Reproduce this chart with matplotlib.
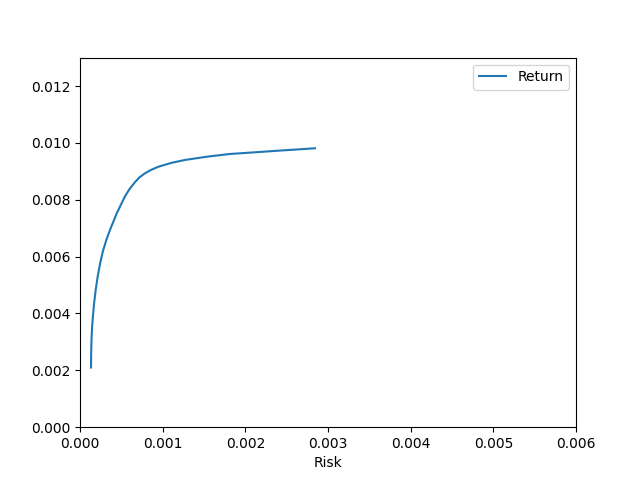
import matplotlib
matplotlib.use("Agg")
import matplotlib.pyplot as plt

risk = [0.000133, 0.000135, 0.000139, 0.000146, 0.000156, 0.000171, 0.000190,
        0.000214, 0.000243, 0.000278, 0.000320, 0.000363, 0.000444, 0.000544,
        0.000600, 0.000665, 0.000720, 0.000786, 0.000860, 0.000947,
        0.001109, 0.001270, 0.001550, 0.001815, 0.002120, 0.002419, 0.002843]
ret = [0.00210, 0.00260, 0.00307, 0.00350, 0.00389, 0.00437, 0.00483,
       0.00530, 0.00576, 0.00620, 0.00660, 0.00694, 0.00752, 0.00812,
       0.00838, 0.00862, 0.00879, 0.00893, 0.00905, 0.00916,
       0.00930, 0.00940, 0.00952, 0.00961, 0.00967, 0.00973, 0.00981]

fig, ax = plt.subplots(figsize=(6.4, 4.8), dpi=100)
ax.plot(risk, ret, label="Return")
ax.set_xlim(0, 0.006)
ax.set_ylim(0, 0.013)
ax.set_xlabel("Risk")
ax.legend(loc="upper right")
fig.savefig("out.png")
